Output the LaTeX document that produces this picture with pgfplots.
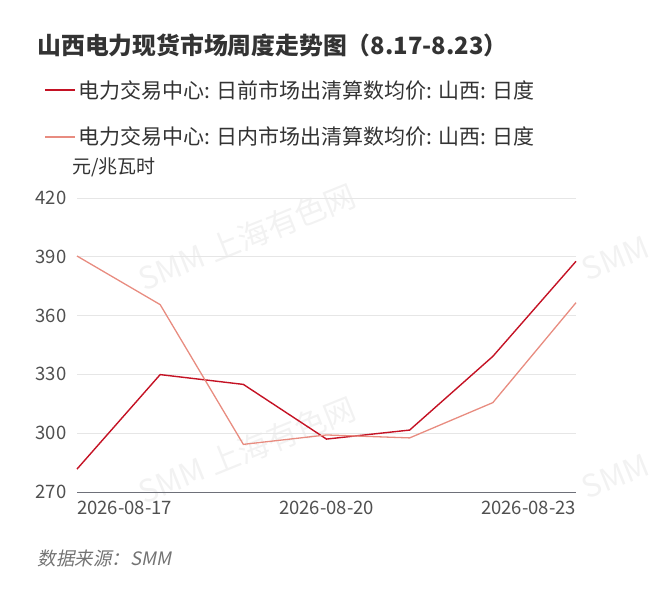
\documentclass[border=0pt]{standalone}
\usepackage{pgfplots}
\pgfplotsset{compat=1.18}
\usepackage{fontspec}
\setmainfont{Noto Sans CJK SC}
\newfontfamily\srcfont[FakeSlant=0.2]{Noto Sans CJK SC}
\definecolor{sA}{RGB}{196,18,36}
\definecolor{sB}{RGB}{232,140,128}
\definecolor{txt}{RGB}{51,51,51}
\definecolor{tick}{RGB}{80,80,80}
\definecolor{gridc}{RGB}{230,230,230}
\definecolor{axc}{RGB}{110,112,121}
\definecolor{wm}{RGB}{242,242,242}
\begin{document}
\begin{tikzpicture}
\path (0pt,0pt) rectangle (658pt,597pt);
% watermarks
\node[rotate=22,text=wm,font=\fontsize{31}{31}\selectfont] at (247pt,360pt) {SMM 上海有色网};
\node[rotate=22,text=wm,font=\fontsize{31}{31}\selectfont] at (247pt,147pt) {SMM 上海有色网};
\node[rotate=22,text=wm,font=\fontsize{31}{31}\selectfont,anchor=south west,inner sep=0pt] at (588pt,315pt) {SMM};
\node[rotate=22,text=wm,font=\fontsize{31}{31}\selectfont,anchor=south west,inner sep=0pt] at (588pt,97pt) {SMM};
\begin{axis}[
  at={(77pt,105pt)}, anchor=south west,
  scale only axis, width=499pt, height=294pt,
  xmin=0, xmax=6, ymin=270, ymax=420,
  ytick={270,300,...,420},
  xtick={0,3,6},
  xticklabels={\rlap{2026-08-17},2026-08-20,\llap{2026-08-23}},
  axis x line*=bottom, axis y line*=left,
  y axis line style={draw=none},
  x axis line style={draw=axc, line width=1pt},
  major tick length=0pt,
  ymajorgrids, grid style={gridc, line width=0.8pt},
  /pgf/number format/assume math mode=true,
  ticklabel style={font=\fontsize{18.5}{18.5}\selectfont, text=tick},
  yticklabel style={xshift=-7pt},
  xticklabel style={yshift=-6pt},
  legend style={at={(-0.066,1.408)}, anchor=north west, draw=none, fill=none,
     font=\fontsize{21}{21}\selectfont, text=txt, row sep=23.5pt, cells={anchor=west}, inner sep=0pt},
  legend image code/.code={\draw[#1, line width=2pt] (0pt,0pt) -- (30pt,0pt);},
  clip=false,
]
\addplot[sA, line width=1.4pt] coordinates {(0,281.7) (1,329.9) (2,324.9) (3,297.0) (4,301.6) (5,339.2) (6,387.7)};
\addlegendentry{电力交易中心: 日前市场出清算数均价: 山西: 日度}
\addplot[sB, line width=1.3pt] coordinates {(0,390.4) (1,365.6) (2,294.3) (3,299.1) (4,297.6) (5,315.6) (6,366.6)};
\addlegendentry{电力交易中心: 日内市场出清算数均价: 山西: 日度}
\end{axis}
\node[anchor=west, text=txt, font=\fontsize{23.8}{23.8}\selectfont\bfseries] at (34pt,552pt) {山西电力现货市场周度走势图（8.17-8.23）};
\node[anchor=west, text=txt, font=\fontsize{19}{19}\selectfont] at (69pt,430pt) {元/兆瓦时};
\node[anchor=west, text=tick!80, font=\fontsize{18.5}{18.5}\selectfont\srcfont] at (34pt,39pt) {数据来源：SMM};
\end{tikzpicture}
\end{document}
